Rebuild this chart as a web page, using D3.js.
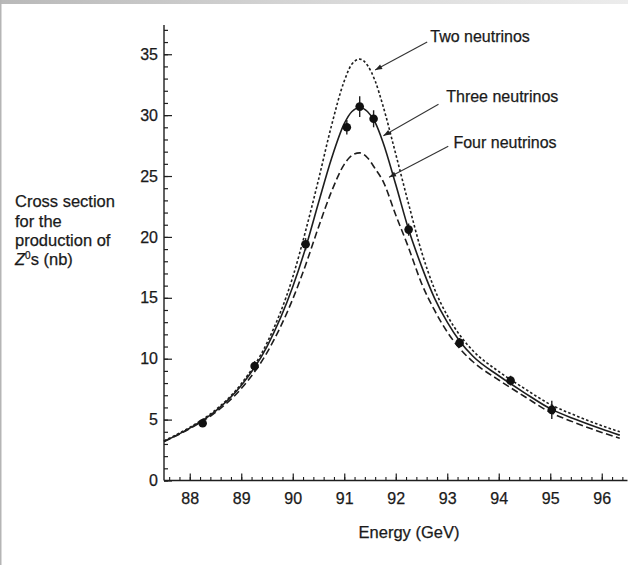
<!DOCTYPE html>
<html>
<head>
<meta charset="utf-8">
<script src="https://cdn.jsdelivr.net/npm/d3@7"></script>
<style>
  html, body { margin: 0; padding: 0; background: #fff; }
  svg { display: block; }
  text { font-family: "Liberation Sans", Arial, Helvetica, sans-serif; fill: #1a1a1a; stroke: #1a1a1a; stroke-width: 0.25px; }
</style>
</head>
<body>
<svg id="chart" width="628" height="565"></svg>
<script>
// ---------- data ----------
const energy = [87.5, 88.0, 88.5, 89.0, 89.5, 90.0, 90.25, 90.5, 90.75, 91.0, 91.15, 91.3, 91.45, 91.6, 91.75, 92.0, 92.25, 92.5, 92.75, 93.0, 93.25, 93.5, 94.0, 94.5, 95.0, 95.5, 96.0, 96.35];
const twoNeutrinos   = [3.25, 4.36, 5.79, 7.94, 11.3, 16.7, 20.5, 24.7, 29.1, 32.8, 34.2, 34.6, 34.1, 32.8, 30.8, 26.8, 22.7, 18.8, 15.75, 13.55, 11.9, 10.65, 8.95, 7.55, 6.25, 5.32, 4.5, 4.0];
const threeNeutrinos = [3.2, 4.3, 5.7, 7.8, 11.0, 15.9, 19.1, 22.8, 26.4, 29.3, 30.3, 30.6, 30.3, 29.4, 27.8, 24.3, 20.6, 17.6, 15.0, 13.0, 11.4, 10.2, 8.6, 7.2, 5.9, 5.0, 4.22, 3.72];
const fourNeutrinos  = [3.2, 4.26, 5.59, 7.55, 10.5, 14.9, 17.7, 20.8, 23.7, 25.96, 26.7, 26.9, 26.5, 25.6, 24.6, 21.8, 19.1, 16.2, 14.0, 12.2, 10.8, 9.75, 8.25, 6.9, 5.6, 4.72, 3.95, 3.47];

const pointEnergy = [88.25, 89.26, 90.25, 91.05, 91.3, 91.57, 92.25, 93.24, 94.23, 95.03];
const pointSigma  = [4.7, 9.4, 19.4, 29.0, 30.7, 29.7, 20.6, 11.3, 8.2, 5.8];
const pointError  = [0.3, 0.4, 0.5, 0.6, 0.85, 0.7, 0.5, 0.4, 0.4, 0.75];

const xTicks = [88, 89, 90, 91, 92, 93, 94, 95, 96];
const yTicks = [0, 5, 10, 15, 20, 25, 30, 35];

const curveLabels = ["Two neutrinos", "Three neutrinos", "Four neutrinos"];
// label anchor (energy, sigma) and arrow from/to points in data units
const labelPos   = [[92.67, 36.45], [92.98, 31.5], [93.12, 27.75]];
const arrowFrom  = [[92.61, 36.0], [92.83, 30.9], [93.02, 27.45]];
const arrowTo    = [[91.60, 33.7], [91.76, 28.3], [91.87, 24.9]];

const yLabelLines = ["Cross section", "for the", "production of"];

// ---------- layout ----------
const W = 628, H = 565;
const svg = d3.select("#chart");
svg.append("rect").attr("width", W).attr("height", H).attr("fill", "#fff");

// window frame: top gradient strip and left edge
const defs = svg.append("defs");
const grad = defs.append("linearGradient").attr("id", "topbar").attr("x1", 0).attr("x2", 1);
grad.append("stop").attr("offset", 0).attr("stop-color", "#b9b9b9");
grad.append("stop").attr("offset", 0.6).attr("stop-color", "#dcdcdc");
grad.append("stop").attr("offset", 1).attr("stop-color", "#ececec");
svg.append("rect").attr("x", 0).attr("y", 0).attr("width", W).attr("height", 4).attr("fill", "url(#topbar)");
svg.append("rect").attr("x", 0).attr("y", 0).attr("width", 1.5).attr("height", H).attr("fill", "#b5b5b5");

const x = d3.scaleLinear().domain([87.5, 96.5]).range([164, 627.5]);
const y = d3.scaleLinear().domain([0, 37.4]).range([480.5, 25]);

const ink = "#1e1e1e";
const tickFont = "16px";

// ---------- axes ----------
const yMinor = d3.range(0, 38, 1);
const xMinor = d3.range(87.6, 96.5, 0.2);

const gy = svg.append("g").attr("transform", `translate(${x(87.5)},0)`);
gy.call(d3.axisLeft(y).tickValues(yMinor).tickSizeInner(-4).tickSizeOuter(0).tickFormat(""));
gy.selectAll(".tick line").attr("stroke", ink).attr("stroke-width", 1.2);
const gy2 = svg.append("g").attr("transform", `translate(${x(87.5)},0)`);
gy2.call(d3.axisLeft(y).tickValues(yTicks).tickSizeInner(-8).tickSizeOuter(0).tickPadding(6).tickFormat(d3.format("d")));
gy2.attr("font-size", null).attr("font-family", null);
gy2.selectAll(".tick line").attr("stroke", ink).attr("stroke-width", 1.2);
gy2.selectAll(".tick text").style("font-size", tickFont);
svg.selectAll(".domain").remove();
svg.append("line").attr("x1", x(87.5)).attr("x2", x(87.5)).attr("y1", y(37.4)).attr("y2", y(0))
  .attr("stroke", ink).attr("stroke-width", 1.4);

const gx = svg.append("g").attr("transform", `translate(0,${y(0)})`);
gx.call(d3.axisBottom(x).tickValues(xMinor).tickSizeInner(-3.5).tickSizeOuter(0).tickFormat(""));
gx.selectAll(".tick line").attr("stroke", ink).attr("stroke-width", 1.1);
const gx2 = svg.append("g").attr("transform", `translate(0,${y(0)})`);
gx2.call(d3.axisBottom(x).tickValues(xTicks).tickSizeInner(-7).tickSizeOuter(0).tickPadding(12).tickFormat(d3.format("d")));
gx2.attr("font-size", null).attr("font-family", null);
gx2.selectAll(".tick line").attr("stroke", ink).attr("stroke-width", 1.2);
gx2.selectAll(".tick text").style("font-size", tickFont);
svg.selectAll(".domain").remove();
svg.append("line").attr("x1", x(87.5)).attr("x2", x(96.5)).attr("y1", y(0)).attr("y2", y(0))
  .attr("stroke", ink).attr("stroke-width", 1.4);

// axis titles
svg.append("text").attr("x", 409).attr("y", 538)
  .attr("text-anchor", "middle").style("font-size", "16.5px").text("Energy (GeV)");

const yl = svg.append("text").attr("x", 15).attr("y", 207).style("font-size", "16.5px");
yLabelLines.forEach((t, i) => {
  yl.append("tspan").attr("x", 15).attr("dy", i === 0 ? 0 : 19.5).text(t);
});
const zl = yl.append("tspan").attr("x", 15).attr("dy", 19);
zl.append("tspan").attr("font-style", "italic").text("Z");
zl.append("tspan").attr("dy", -6).style("font-size", "10px").text("0");
zl.append("tspan").attr("dy", 6).text("s (nb)");

// ---------- curves ----------
const lineGen = d3.line().x(d => x(d[0])).y(d => y(d[1])).curve(d3.curveMonotoneX);
const series = [
  { values: twoNeutrinos, dash: "2.6,2.2" },
  { values: threeNeutrinos, dash: null },
  { values: fourNeutrinos, dash: "7,3.5" }
];
series.forEach(s => {
  svg.append("path")
    .datum(energy.map((e, i) => [e, s.values[i]]))
    .attr("d", lineGen)
    .attr("fill", "none")
    .attr("stroke", ink)
    .attr("stroke-width", 1.6)
    .attr("stroke-dasharray", s.dash);
});

// ---------- data points with error bars ----------
const pts = pointEnergy.map((e, i) => ({ e, s: pointSigma[i], err: pointError[i] }));
svg.selectAll("line.err").data(pts).enter().append("line")
  .attr("class", "err")
  .attr("x1", d => x(d.e)).attr("x2", d => x(d.e))
  .attr("y1", d => y(d.s - d.err)).attr("y2", d => y(d.s + d.err))
  .attr("stroke", ink).attr("stroke-width", 1.4);
svg.selectAll("circle.pt").data(pts).enter().append("circle")
  .attr("class", "pt")
  .attr("cx", d => x(d.e)).attr("cy", d => y(d.s)).attr("r", 4.3)
  .attr("fill", "#111");

// ---------- annotations ----------
curveLabels.forEach((lab, i) => {
  svg.append("text")
    .attr("x", x(labelPos[i][0])).attr("y", y(labelPos[i][1]))
    .attr("dy", "0.35em")
    .style("font-size", "16px")
    .text(lab);
  const x1 = x(arrowFrom[i][0]), y1 = y(arrowFrom[i][1]);
  const x2 = x(arrowTo[i][0]), y2 = y(arrowTo[i][1]);
  svg.append("line").attr("x1", x1).attr("y1", y1).attr("x2", x2).attr("y2", y2)
    .attr("stroke", "#333").attr("stroke-width", 1.1);
  const ang = Math.atan2(y2 - y1, x2 - x1);
  const L = 7, Wd = 2.6;
  const bx = x2 - L * Math.cos(ang), by = y2 - L * Math.sin(ang);
  const px = -Math.sin(ang) * Wd, py = Math.cos(ang) * Wd;
  svg.append("path")
    .attr("d", `M${x2},${y2}L${bx + px},${by + py}L${bx - px},${by - py}Z`)
    .attr("fill", "#222");
});
</script>
</body>
</html>
